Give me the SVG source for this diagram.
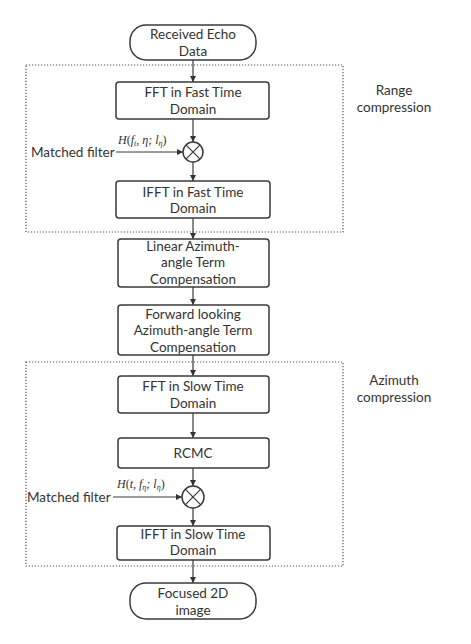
<svg xmlns="http://www.w3.org/2000/svg" width="471" height="644" viewBox="0 0 471 644">
<defs>
<marker id="ah" viewBox="0 0 10 10" refX="10" refY="5" markerWidth="6" markerHeight="6" markerUnits="userSpaceOnUse" orient="auto">
<path d="M0,0 L10,5 L0,10 z" fill="#333"/>
</marker>
<style>
.box{fill:#fff;stroke:#3a3a3a;stroke-width:1.5}
.grp{fill:none;stroke:#555;stroke-width:1.2;stroke-dasharray:1.2 1.8}
.t{font-family:Lato,"Open Sans",sans-serif;font-size:13.5px;fill:#333;text-anchor:middle}
.tl{font-family:Lato,"Open Sans",sans-serif;font-size:13.5px;fill:#333}
.m{font-family:"Liberation Serif",serif;font-style:italic;font-size:12px;fill:#333}
.c{stroke:#3a3a3a;stroke-width:1.2;fill:none}
.op{fill:#fff;stroke:#3a3a3a;stroke-width:1.5}
</style>
</defs>
<rect width="471" height="644" fill="#fff"/>

<g id="range-group">
<rect class="grp" x="26" y="65" width="317" height="167"/>
<text class="t" x="394" y="95">Range</text>
<text class="t" x="394" y="111.5">compression</text>
</g>
<g id="azimuth-group">
<rect class="grp" x="26" y="362" width="317" height="204"/>
<text class="t" x="394" y="385">Azimuth</text>
<text class="t" x="394" y="401.5">compression</text>
</g>

<g id="connectors">
<line class="c" x1="193" y1="60" x2="193" y2="82" marker-end="url(#ah)"/>
<line class="c" x1="193" y1="119" x2="193" y2="142" marker-end="url(#ah)"/>
<line class="c" x1="193" y1="162" x2="193" y2="181" marker-end="url(#ah)"/>
<line class="c" x1="193" y1="218" x2="193" y2="239" marker-end="url(#ah)"/>
<line class="c" x1="193" y1="287" x2="193" y2="305" marker-end="url(#ah)"/>
<line class="c" x1="193" y1="355" x2="193" y2="376" marker-end="url(#ah)"/>
<line class="c" x1="193" y1="413" x2="193" y2="438" marker-end="url(#ah)"/>
<line class="c" x1="193" y1="468" x2="193" y2="486" marker-end="url(#ah)"/>
<line class="c" x1="193" y1="508" x2="193" y2="526" marker-end="url(#ah)"/>
<line class="c" x1="193" y1="560" x2="193" y2="583" marker-end="url(#ah)"/>
<line class="c" x1="116" y1="152" x2="183" y2="152" marker-end="url(#ah)"/>
<line class="c" x1="113" y1="497" x2="182" y2="497" marker-end="url(#ah)"/>
</g>

<g id="start">
<rect class="box" x="130" y="25" width="126" height="35" rx="16" ry="16"/>
<text class="t" x="193" y="39">Received Echo</text>
<text class="t" x="193" y="55.5">Data</text>
</g>

<g id="fft-fast">
<rect class="box" x="116" y="82" width="153" height="37" rx="3"/>
<text class="t" x="193" y="97">FFT in Fast Time</text>
<text class="t" x="193" y="113.5">Domain</text>
</g>

<g id="mult1">
<circle class="op" cx="193" cy="152" r="10"/>
<path class="c" d="M185.9,144.9 L200.1,159.1 M200.1,144.9 L185.9,159.1"/>
</g>

<g id="mf1">
<text class="tl" x="31" y="157">Matched filter</text>
<text class="m" x="118" y="144">H<tspan font-style="normal">(</tspan>f<tspan font-size="8" dy="2">t</tspan><tspan dy="-2">, η; l</tspan><tspan font-size="8" dy="2">η</tspan><tspan dy="-2" font-style="normal">)</tspan></text>
</g>

<g id="ifft-fast">
<rect class="box" x="116" y="181" width="154" height="37" rx="3"/>
<text class="t" x="193" y="196.5">IFFT in Fast Time</text>
<text class="t" x="193" y="213">Domain</text>
</g>

<g id="linear-comp">
<rect class="box" x="118" y="239" width="151" height="48" rx="3"/>
<text class="t" x="193" y="250.5">Linear Azimuth-</text>
<text class="t" x="193" y="267">angle Term</text>
<text class="t" x="193" y="283.5">Compensation</text>
</g>

<g id="forward-comp">
<rect class="box" x="118" y="305" width="151" height="50" rx="3"/>
<text class="t" x="193" y="318.5">Forward looking</text>
<text class="t" x="193" y="335">Azimuth-angle Term</text>
<text class="t" x="193" y="351.5">Compensation</text>
</g>

<g id="fft-slow">
<rect class="box" x="118" y="376" width="151" height="37" rx="3"/>
<text class="t" x="193" y="391">FFT in Slow Time</text>
<text class="t" x="193" y="407.5">Domain</text>
</g>

<g id="rcmc">
<rect class="box" x="118" y="438" width="151" height="30" rx="3"/>
<text class="t" x="193" y="458">RCMC</text>
</g>

<g id="mult2">
<circle class="op" cx="193" cy="497" r="11"/>
<path class="c" d="M185.2,489.2 L200.8,504.8 M200.8,489.2 L185.2,504.8"/>
</g>

<g id="mf2">
<text class="tl" x="27" y="502">Matched filter</text>
<text class="m" x="117" y="488">H<tspan font-style="normal">(</tspan>t, f<tspan font-size="8" dy="2">η</tspan><tspan dy="-2">; l</tspan><tspan font-size="8" dy="2">η</tspan><tspan dy="-2" font-style="normal">)</tspan></text>
</g>

<g id="ifft-slow">
<rect class="box" x="117" y="526" width="153" height="34" rx="3"/>
<text class="t" x="193" y="538.5">IFFT in Slow Time</text>
<text class="t" x="193" y="555">Domain</text>
</g>

<g id="end">
<rect class="box" x="130" y="583" width="126" height="36" rx="16" ry="16"/>
<text class="t" x="193" y="598">Focused 2D</text>
<text class="t" x="193" y="614.5">image</text>
</g>
</svg>
